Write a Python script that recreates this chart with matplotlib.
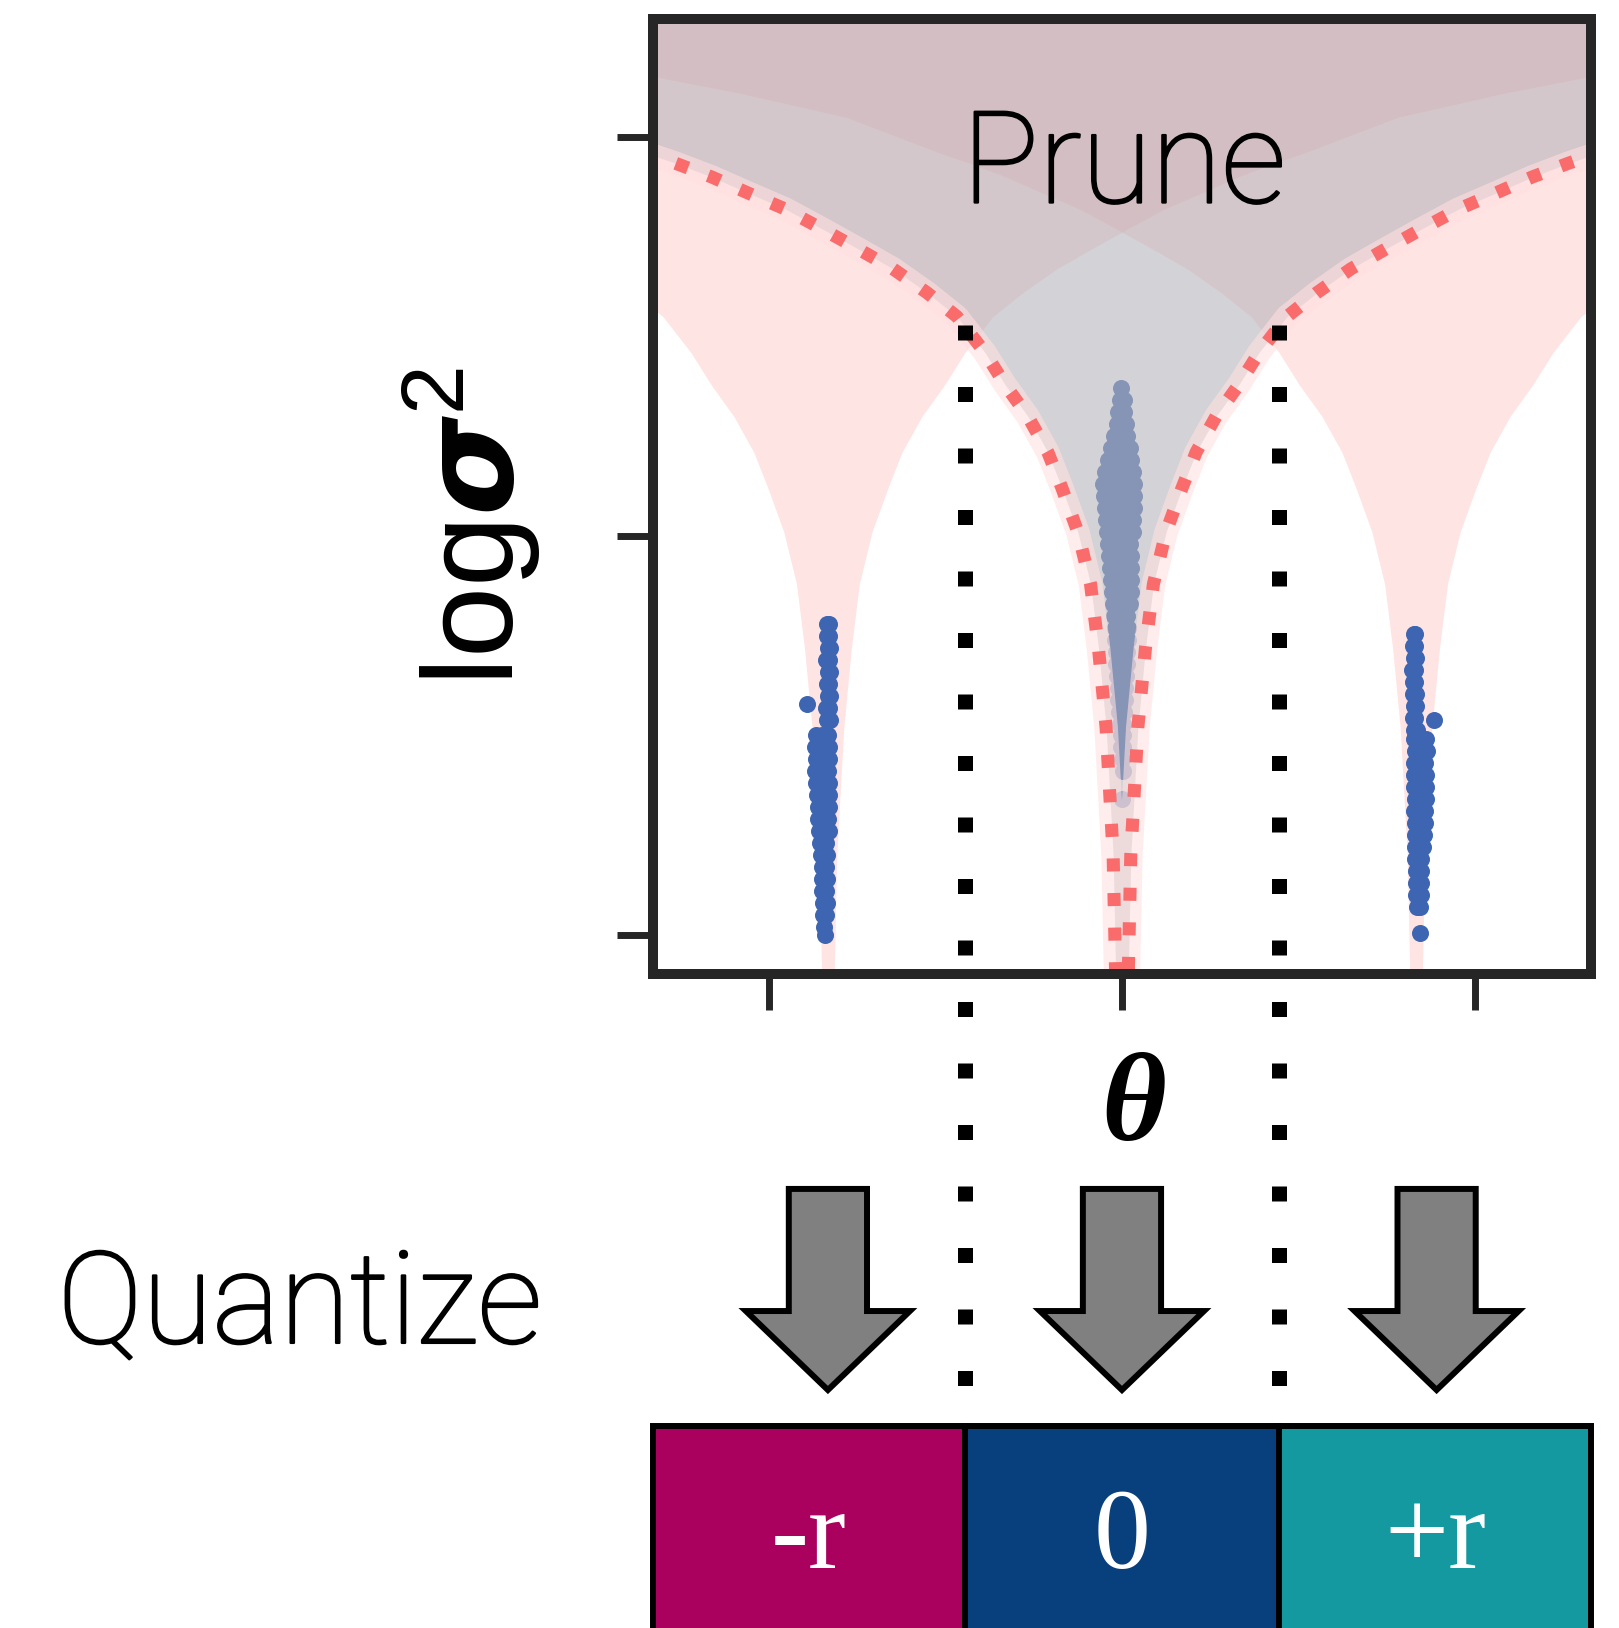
import numpy as np
import matplotlib.pyplot as plt
import matplotlib.patheffects as pe
from matplotlib.patches import Rectangle, Polygon
from matplotlib.lines import Line2D
from matplotlib.text import Text
from matplotlib.transforms import blended_transform_factory

plt.rcParams['mathtext.fontset'] = 'custom'
plt.rcParams['mathtext.rm'] = 'Liberation Sans'
plt.rcParams['mathtext.bfit'] = 'DejaVu Sans:italic:bold'

# prune threshold: log sigma^2 against distance |theta - level| (units of r)
curve_dist = [0.02, 0.03, 0.054, 0.08, 0.107, 0.15, 0.204, 0.252, 0.32, 0.398, 0.466,
              0.561, 0.663, 0.779, 0.898, 1.02, 1.146, 1.272, 1.395, 1.52, 1.62, 1.94, 2.3, 2.65]
curve_logvar = [-0.15, 0.2, 0.52, 0.72, 0.88, 1.01, 1.12, 1.21, 1.30, 1.38, 1.46,
                1.55, 1.61, 1.67, 1.72, 1.77, 1.82, 1.86, 1.90, 1.935, 1.96, 2.05, 2.11, 2.16]

levels = [-1.0, 0.0, 1.0]
boundaries = [-0.535, 0.535]
boundary_top = 1.53
box_labels = ['-r', '0', '+r']
box_colors = ['#aa005e', '#083f7d', '#13999f']
arrow_x = [-1.0, 0.0, 1.07]

# weights sitting on -r
left_rows_y = [0.78, 0.75, 0.72, 0.69, 0.66, 0.63, 0.60, 0.57, 0.54, 0.50, 0.47, 0.44, 0.41, 0.38,
               0.35, 0.32, 0.29, 0.26, 0.23, 0.20, 0.17, 0.14, 0.11, 0.08, 0.05, 0.02, 0.00, 0.58]
left_rows_x = [[-1.002, -0.996], [-1.004, -0.995], [-1.000, -0.994], [-1.005, -0.996], [-1.001, -0.993],
               [-1.004, -0.995], [-1.000, -0.994], [-1.006, -0.996], [-1.002, -0.993],
               [-1.042, -1.020, -0.998], [-1.044, -1.022, -0.997], [-1.040, -1.018, -0.995],
               [-1.043, -1.021, -0.998], [-1.039, -1.017, -0.996], [-1.036, -1.015, -0.997],
               [-1.034, -1.014, -0.995], [-1.032, -1.012, -0.998], [-1.029, -1.010, -0.997],
               [-1.026, -1.006], [-1.023, -1.004], [-1.021, -1.005], [-1.019, -1.003],
               [-1.020, -1.006], [-1.017, -1.004], [-1.015, -1.005], [-1.012], [-1.010], [-1.072]]

# weights sitting on +r
right_rows_y = [0.755, 0.725, 0.695, 0.665, 0.635, 0.605, 0.575, 0.545, 0.515, 0.49, 0.46, 0.43,
                0.40, 0.37, 0.34, 0.31, 0.28, 0.25, 0.22, 0.19, 0.16, 0.13, 0.10, 0.07, 0.005, 0.539]
right_rows_x = [[0.992, 0.998], [0.990, 0.997], [0.993, 0.999], [0.988, 0.997], [0.991, 0.998],
                [0.990, 0.999], [0.992, 1.000], [0.990, 0.998], [0.993, 1.002],
                [0.994, 1.014, 1.034], [0.995, 1.015, 1.037], [0.993, 1.013, 1.032],
                [0.994, 1.015, 1.035], [0.993, 1.014, 1.033], [0.995, 1.015, 1.034],
                [0.994, 1.013, 1.031], [0.996, 1.015, 1.030], [0.995, 1.014, 1.027],
                [0.997, 1.016, 1.025], [0.998, 1.016], [0.999, 1.016], [1.000, 1.017],
                [1.001, 1.016], [1.003, 1.015], [1.014], [1.062]]

# weights near zero (pruned)
center_rows_y = [1.37, 1.34, 1.31, 1.28, 1.25, 1.22, 1.19, 1.16, 1.13, 1.10, 1.07, 1.04, 1.01, 0.98,
                 0.95, 0.92, 0.89, 0.86, 0.83, 0.80, 0.77, 0.74, 0.71, 0.68, 0.65, 0.62, 0.59, 0.56,
                 0.53, 0.50, 0.47, 0.44, 0.41, 0.34]
center_rows_x = [[-0.002], [-0.008, 0.006], [-0.012, 0.008], [-0.018, 0.000, 0.014],
                 [-0.026, -0.005, 0.018], [-0.036, -0.012, 0.012, 0.026],
                 [-0.046, -0.020, 0.004, 0.030], [-0.056, -0.030, -0.006, 0.020, 0.038],
                 [-0.064, -0.038, -0.012, 0.014, 0.040], [-0.060, -0.034, -0.008, 0.018, 0.042],
                 [-0.056, -0.030, -0.004, 0.020, 0.040], [-0.054, -0.028, -0.002, 0.022, 0.038],
                 [-0.050, -0.024, 0.000, 0.024, 0.036], [-0.046, -0.020, 0.004, 0.028],
                 [-0.044, -0.018, 0.006, 0.030], [-0.040, -0.014, 0.010, 0.030],
                 [-0.038, -0.012, 0.012, 0.032], [-0.034, -0.010, 0.014, 0.030],
                 [-0.030, -0.006, 0.016, 0.026], [-0.028, -0.004, 0.018], [-0.025, -0.002, 0.021],
                 [-0.023, 0.000, 0.020], [-0.021, 0.000, 0.018], [-0.019, 0.000, 0.016],
                 [-0.016, 0.002, 0.014], [-0.014, 0.010], [-0.012, 0.009], [-0.009, 0.007],
                 [-0.007, 0.005], [-0.004, 0.004], [-0.002, 0.002], [0.000], [0.002], [0.000]]


def flatten(rows_x, rows_y):
    xs, ys = [], []
    for row, y in zip(rows_x, rows_y):
        xs += row
        ys += [y] * len(row)
    return xs, ys


def v_curve(c):
    d = np.array(curve_dist)
    v = np.array(curve_logvar)
    return np.concatenate([c - d[::-1], c + d]), np.concatenate([v[::-1], v])


fig = plt.figure(figsize=(16.19, 16.28), dpi=100)
ax = fig.add_axes([0.4033, 0.4017, 0.5794, 0.5866])
ax.set_xlim(-1.595, 1.595)
ax.set_ylim(-0.098, 2.296)

# quantization regions around -r and +r
for c in (levels[0], levels[2]):
    x, y = v_curve(c)
    ax.fill_between(x, y, 2.6, color='#ff7b7b', alpha=0.2, lw=0, zorder=1)

blue = '#3d65b1'
for rx, ry in [(left_rows_x, left_rows_y), (right_rows_x, right_rows_y), (center_rows_x, center_rows_y)]:
    xs, ys = flatten(rx, ry)
    ax.scatter(xs, ys, s=150, color=blue, lw=0, zorder=2)

# prune region around 0
x, y = v_curve(levels[1])
ax.fill_between(x, y, 2.6, color='#b7b5bb', alpha=0.6, lw=0, zorder=3)
ax.plot(x, y, color='#ffe0e0', lw=17, alpha=0.6, solid_capstyle='butt', zorder=3.5)
ax.plot(x, y, color='#fa6b6b', lw=9.4, ls=':', dash_capstyle='butt', zorder=4)

thick = [pe.withStroke(linewidth=1.6, foreground='black')]
ax.text(0.007, 1.836, 'Prune', ha='center', va='baseline', fontsize=92,
        family='Roboto', fontweight='light', zorder=6, path_effects=thick)

ax.set_xticks([-1.2, 0, 1.2])
ax.set_yticks([0, 1, 2])
ax.set_xticklabels([])
ax.set_yticklabels([])
ax.tick_params(length=26, width=5, color='#262626', direction='out')
for sp in ax.spines.values():
    sp.set_linewidth(7.2)
    sp.set_color('#262626')
    sp.set_zorder(5)

tr = blended_transform_factory(ax.transData, fig.transFigure)
y_top = fig.transFigure.inverted().transform(ax.transData.transform((0, boundary_top)))[1]
box_top = 0.124

# decision boundaries
for b in boundaries:
    fig.add_artist(Line2D([b, b], [y_top, box_top], transform=tr, color='black',
                          lw=10.8, ls=(0, (1, 3.1)), dash_capstyle='butt', zorder=6))

# quantized values
edges = [ax.get_xlim()[0]] + boundaries + [ax.get_xlim()[1]]
for i in range(3):
    fig.add_artist(Rectangle((edges[i], -0.05), edges[i + 1] - edges[i], box_top + 0.05,
                             transform=tr, facecolor=box_colors[i], edgecolor='black',
                             lw=4.3, zorder=2))
    fig.add_artist(Text((edges[i] + edges[i + 1]) / 2, 0.0369, box_labels[i], transform=tr,
                        ha='center', va='baseline', fontsize=82, family='Liberation Serif',
                        color='white', zorder=7))

# arrows
for xc in arrow_x:
    pts = [(xc - 0.133, 0.2697), (xc + 0.133, 0.2697), (xc + 0.133, 0.1947),
           (xc + 0.279, 0.1947), (xc, 0.1462), (xc - 0.279, 0.1947), (xc - 0.133, 0.1947)]
    fig.add_artist(Polygon(pts, closed=True, transform=tr, facecolor='#808080',
                           edgecolor='black', lw=4.3, joinstyle='miter', zorder=2))

fig.text(0.2915, 0.6763, r'$\mathrm{log}\mathbfit{\sigma}^2$', rotation=90,
         ha='center', va='center', fontsize=92)
fig.text(0.7004, 0.318, 'θ', ha='center', va='center', fontsize=90,
         family='Liberation Serif', style='italic', fontweight='bold')
fig.text(0.185, 0.1751, 'Quantize', ha='center', va='baseline', fontsize=92,
         family='Roboto', fontweight='light', path_effects=thick)

plt.savefig('out.png', dpi=100)
plt.close()
